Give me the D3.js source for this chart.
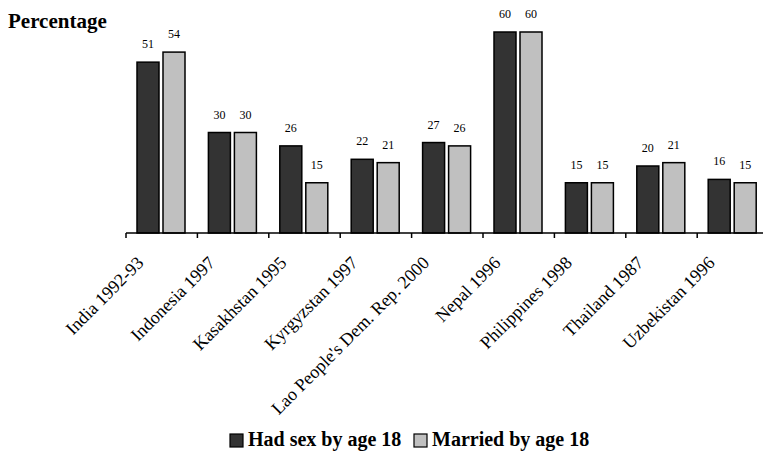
<!DOCTYPE html>
<html>

<head>
    <meta charset="UTF-8">
    <style>
        body { margin: 0; background: #fff; }
        svg { display: block; font-family: "Liberation Serif", "Times New Roman", serif; }
    </style>
</head>

<body>
    <svg></svg>
    <script src="https://d3js.org/d3.v7.min.js"></script>

    <script>

        let width = 763, height = 455;

        // data
        let countries = ["India 1992-93", "Indonesia 1997", "Kasakhstan 1995", "Kyrgyzstan 1997",
            "Lao People's Dem. Rep. 2000", "Nepal 1996", "Philippines 1998", "Thailand 1987", "Uzbekistan 1996"];
        let hadSex = [51, 30, 26, 22, 27, 60, 15, 20, 16];
        let married = [54, 30, 15, 21, 26, 60, 15, 21, 15];
        let seriesNames = ["Had sex by age 18", "Married by age 18"];
        let seriesColors = ["#333333", "#c0c0c0"];

        let svg = d3.select("svg")
            .attr("width", width)
            .attr("height", height);

        let x0 = d3.scaleBand()
            .domain(countries)
            .range([126, 126 + 71.4 * countries.length]);

        let x1 = d3.scaleBand()
            .domain(seriesNames)
            .range([11, 59])
            .paddingInner(4 / 26);

        let y = d3.scaleLinear()
            .domain([0, 60])
            .range([233, 32]);

        let rows = countries.map((c, i) => ({ country: c, values: [hadSex[i], married[i]] }));

        // bars
        let groups = svg.append("g")
            .selectAll("g")
            .data(rows)
            .enter()
            .append("g")
            .attr("transform", d => "translate(" + x0(d.country) + ",0)");

        groups.selectAll("rect")
            .data(d => d.values.map((v, k) => ({ name: seriesNames[k], value: v, k: k })))
            .enter()
            .append("rect")
            .attr("x", d => x1(d.name))
            .attr("y", d => y(d.value))
            .attr("width", x1.bandwidth())
            .attr("height", d => y(0) - y(d.value))
            .attr("fill", d => seriesColors[d.k])
            .attr("stroke", "#000")
            .attr("stroke-width", 1.5);

        groups.selectAll("text")
            .data(d => d.values.map((v, k) => ({ name: seriesNames[k], value: v })))
            .enter()
            .append("text")
            .attr("x", d => x1(d.name) + x1.bandwidth() / 2)
            .attr("y", d => y(d.value) - 14)
            .attr("text-anchor", "middle")
            .attr("font-size", "12px")
            .text(d => d.value);

        // x axis
        let axis = svg.append("g");
        axis.append("line")
            .attr("x1", x0.range()[0]).attr("x2", x0.range()[1])
            .attr("y1", y(0)).attr("y2", y(0))
            .attr("stroke", "#000").attr("stroke-width", 1.5);

        axis.selectAll(".tick")
            .data(countries)
            .enter()
            .append("line")
            .attr("x1", d => x0(d)).attr("x2", d => x0(d))
            .attr("y1", y(0)).attr("y2", y(0) + 5)
            .attr("stroke", "#000").attr("stroke-width", 1.5);

        axis.selectAll(".lbl")
            .data(countries)
            .enter()
            .append("text")
            .attr("text-anchor", "end")
            .attr("font-size", "18px")
            .attr("transform", d => "translate(" + (x0(d) + x0.bandwidth() / 2 - 17) + "," + 264 + ") rotate(-45)")
            .text(d => d);

        // y title
        svg.append("text")
            .attr("x", 8)
            .attr("y", 28)
            .attr("font-size", "21px")
            .attr("font-weight", "bold")
            .text("Percentage");

        // legend
        let legend = svg.append("g").attr("transform", "translate(230,446)");
        let lx = [0, 184];
        seriesNames.forEach((s, k) => {
            legend.append("rect")
                .attr("x", lx[k]).attr("y", -12)
                .attr("width", 13).attr("height", 13)
                .attr("fill", seriesColors[k])
                .attr("stroke", "#000").attr("stroke-width", 1.2);
            legend.append("text")
                .attr("x", lx[k] + 18).attr("y", 0)
                .attr("font-size", "20px")
                .attr("font-weight", "bold")
                .text(s);
        });

    </script>

</body>

</html>
